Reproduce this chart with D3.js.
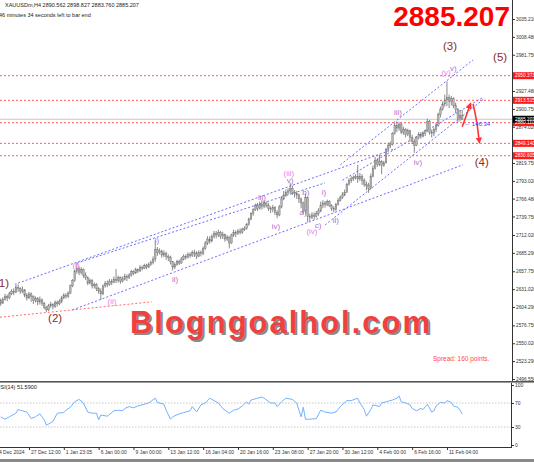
<!DOCTYPE html>
<html><head><meta charset="utf-8">
<script src="https://cdn.jsdelivr.net/npm/d3@7"></script>
<style>body{margin:0;background:#fff;overflow:hidden}svg{display:block}</style>
</head><body>
<script>
// ---------- DATA ----------
const firstOpen = 2618;
const closes = [
2614,2610,2616,2620,2618,2624,2628,2626,2634,2632,
2628,2630,2622,2618,2624,2620,2614,2617,2612,2615,
2610,2604,2600,2606,2608,2605,2611,2609,2613,2618,
2622,2620,2625,2636,2644,2658,2662,2656,2660,2652,
2648,2640,2644,2636,2638,2632,2628,2624,2636,2640,
2638,2643,2641,2646,2644,2648,2643,2646,2650,2648,
2652,2657,2655,2660,2658,2663,2662,2666,2664,2668,
2671,2676,2690,2686,2688,2682,2685,2680,2678,2672,
2664,2668,2672,2670,2676,2680,2678,2683,2681,2686,
2684,2680,2686,2684,2692,2700,2706,2703,2710,2714,
2712,2716,2710,2713,2706,2709,2700,2712,2716,2714,
2718,2716,2720,2722,2728,2736,2744,2750,2756,2752,
2758,2755,2760,2756,2752,2750,2753,2746,2742,2754,
2766,2772,2776,2778,2782,2776,2774,2772,2766,2760,
2748,2768,2740,2738,2742,2740,2744,2748,2756,2760,
2758,2762,2756,2752,2750,2758,2764,2768,2772,2776,
2788,2794,2796,2798,2800,2796,2800,2794,2788,2786,
2782,2800,2812,2824,2818,2822,2816,2820,2840,2846,
2848,2864,2876,2872,2878,2866,2870,2862,2868,2858,
2852,2846,2858,2862,2860,2864,2868,2882,2866,2864,
2870,2876,2892,2900,2908,2914,2918,2912,2916,2906,
2900,2886,2890.562,2885.207];
const highs = [
2620,2617,2619,2624,2623,2627,2631,2632,2640,2638,
2634,2635,2631,2625,2627,2626,2622,2620,2619,2620,
2617,2612,2606,2609,2612,2610,2614,2614,2616,2621,
2625,2625,2628,2638,2646,2660,2670,2665,2664,2662,
2656,2650,2647,2646,2641,2640,2634,2632,2638,2643,
2644,2646,2646,2650,2661,2651,2650,2650,2654,2653,
2655,2660,2659,2663,2662,2667,2666,2669,2669,2671,
2674,2680,2704,2694,2692,2690,2689,2687,2683,2681,
2673,2671,2675,2675,2679,2683,2683,2686,2686,2689,
2690,2688,2689,2689,2695,2703,2710,2710,2713,2718,
2718,2720,2718,2717,2714,2712,2710,2714,2720,2719,
2721,2722,2723,2725,2730,2738,2746,2752,2759,2760,
2762,2764,2764,2762,2760,2755,2757,2755,2749,2757,
2770,2778,2780,2782,2790,2786,2779,2778,2774,2768,
2762,2774,2769,2744,2746,2746,2748,2752,2762,2764,
2763,2765,2764,2758,2755,2760,2767,2771,2776,2780,
2790,2797,2800,2801,2803,2817,2805,2803,2797,2792,
2790,2804,2816,2829,2827,2832,2824,2823,2842,2850,
2852,2866,2880,2882,2881,2880,2874,2872,2871,2869,
2862,2856,2860,2866,2866,2867,2870,2886,2884,2870,
2873,2880,2895,2904,2912,2922,2942,2922,2920,2918,
2910,2902,2899,2898.827];
const lows = [
2608,2606,2609,2614,2613,2616,2622,2622,2625,2627,
2624,2625,2619,2614,2616,2612,2609,2611,2607,2608,
2606,2601,2597,2598,2603,2601,2603,2605,2607,2610,
2616,2617,2618,2624,2634,2642,2654,2652,2653,2648,
2645,2637,2638,2632,2632,2628,2624,2615,2622,2633,
2634,2636,2637,2640,2640,2641,2639,2641,2644,2643,
2646,2650,2652,2654,2655,2657,2659,2661,2661,2663,
2666,2668,2672,2681,2683,2678,2679,2675,2673,2668,
2659,2661,2666,2667,2669,2674,2675,2677,2678,2679,
2679,2676,2679,2680,2682,2690,2697,2699,2701,2707,
2707,2709,2706,2706,2702,2703,2692,2699,2709,2709,
2712,2713,2714,2718,2720,2726,2734,2741,2748,2748,
2750,2750,2752,2753,2748,2745,2746,2742,2737,2740,
2752,2764,2769,2772,2774,2772,2768,2766,2760,2752,
2744,2744,2731,2733,2736,2735,2738,2741,2746,2752,
2753,2755,2754,2748,2746,2748,2756,2762,2766,2770,
2775,2786,2790,2793,2795,2790,2793,2787,2784,2779,
2775,2780,2798,2810,2814,2815,2803,2814,2819,2838,
2842,2846,2862,2866,2868,2863,2862,2858,2860,2852,
2848,2835,2845,2855,2856,2858,2860,2866,2862,2858,
2860,2866,2874,2888,2898,2904,2905,2902,2906,2902,
2894,2880,2882,2883.76];

const rsiIdx = [1,3,5,8,9,11,13,15,17,19,21,22,24,25,27,30,31,33,35,37,39,41,43,45,46,47,50,53,55,57,58,60,62,64,66,69,72,73,76,77,79,80,83,85,88,89,91,93,95,97,99,101,103,106,108,110,112,114,115,116,119,121,122,125,127,128,130,132,135,137,138,139,140,141,143,146,148,150,153,155,157,160,162,165,166,168,169,171,172,175,176,178,181,183,184,185,187,189,190,192,194,195,197,199,200,201,203,205,206,208,209,211,212,213];
const rsiVal = [47,43,47,53,59,57,55,44,47,52,42,33,37,39,53,54,58,63,72,76,70,55,53,53,42,50,48,57,58,57,61,64,62,65,67,70,78,71,68,58,43,47,52,54,57,64,55,67,70,78,74,70,61,53,58,60,65,72,68,75,78,80,78,70,70,64,72,78,76,70,58,47,63,43,43,44,58,55,53,55,64,74,74,78,70,59,48,59,67,64,70,72,75,78,82,72,70,67,61,57,61,59,68,55,57,65,71,70,74,71,65,63,58,51.59];

const priceTicks = [3035.21,3008.48,2981.75,2927.48,2900.75,2874.02,2819.75,2793.02,2766.48,2739.75,2712.02,2685.29,2657.75,2631.02,2604.29,2576.75,2550.02,2523.29,2496.55];
const priceTickLabels = ["3035.210","3008.480","2981.750","2927.480","2900.750","2874.020","2819.750","2793.020","2766.480","2739.750","2712.020","2685.290","2657.750","2631.020","2604.290","2576.750","2550.020","2523.290","2496.550"];
const timeIdx = [-2,14,30,46,62,78,94,110,126,142,158,174,190,206];
const timeLabels = ["24 Dec 2024","27 Dec 12:00","1 Jan 23:05","6 Jan 00:00","9 Jan 00:00","13 Jan 12:00","16 Jan 04:00","20 Jan 16:00","23 Jan 08:00","27 Jan 20:00","30 Jan 12:00","4 Feb 00:00","6 Feb 16:00","11 Feb 04:00"];
const rsiTicks = [100,70,30,0];
const redLevels = [2950.373,2913.515,2880.110,2849.140,2830.605];
const lastPrice = 2885.207;

// Elliott wave labels: [text, barIndex, price, kind]
const waveLabels = [
 ["(1)",1.6,2638,"major"],["(2)",26,2586,"major"],["(3)",207.4,2993,"major"],["(4)",222,2820,"major"],["(5)",230.4,2977,"major"],
 ["(i)",35.6,2666,"inter"],["(ii)",52.1,2612,"inter"],["(iii)",133.4,2803,"inter"],["(iv)",144,2716,"inter"],["(v)",205.6,2954,"inter"],
 ["i)",72.8,2703,"minor"],["ii)",81.1,2645,"minor"],["iii)",121,2767,"minor"],["iv)",127.5,2724,"minor"],["v)",133.9,2793,"minor"],
 ["a)",139.9,2745,"minor"],["b)",141.2,2775,"minor"],["c)",146.8,2725,"minor"],["i)",149.5,2775,"minor"],["ii)",155,2733,"minor"],
 ["iii)",183.5,2895,"minor"],["iv)",192.7,2820,"minor"],["v)",208.9,2960,"minor"]
];
// trend lines: [bar1, price1, bar2, price2]
const blueLines = [
 [9,2640,182,2841],
 [34,2600,213.4,2817],
 [36,2670,150,2790],
 [157,2817,218,2974],
 [150,2727,223.5,2917],
 [158,2794,222.6,2918]
];
const redSupport = [0.7,2589,70.5,2612];

// ---------- CHART ----------
const W=534,H=462, axisX=512, mainBottom=381, rsiTop=383, rsiBottom=447;
const svg = d3.select("body").append("svg").attr("width",W).attr("height",H)
  .style("font-family","'Liberation Sans',Arial,sans-serif");
svg.append("rect").attr("width",W).attr("height",H).attr("fill","#fff");

const x = d3.scaleLinear().domain([0,213]).range([-1.5,462.2]);
const y = d3.scaleLinear().domain([2496.55,3035.21]).range([379,19]);
const yr = d3.scaleLinear().domain([0,100]).range([445,385]);

const defs = svg.append("defs");
defs.append("clipPath").attr("id","cm").append("rect").attr("x",0).attr("y",0).attr("width",axisX).attr("height",mainBottom);
defs.append("clipPath").attr("id","cr").append("rect").attr("x",0).attr("y",rsiTop).attr("width",axisX-1).attr("height",rsiBottom-rsiTop);

const main = svg.append("g").attr("clip-path","url(#cm)");

// red horizontal levels
main.selectAll(".lvl").data(redLevels).join("line")
  .attr("x1",0).attr("x2",axisX).attr("y1",d=>y(d)).attr("y2",d=>y(d))
  .attr("stroke","#ff4a4a").attr("stroke-width",0.9).attr("stroke-dasharray","2,2");
// bid line
main.append("line").attr("x1",0).attr("x2",axisX).attr("y1",y(lastPrice)).attr("y2",y(lastPrice))
  .attr("stroke","#c8c8c8").attr("stroke-width",1);

// trend lines
main.selectAll(".tl").data(blueLines).join("line")
  .attr("x1",d=>x(d[0])).attr("y1",d=>y(d[1])).attr("x2",d=>x(d[2])).attr("y2",d=>y(d[3]))
  .attr("stroke","#5a5aff").attr("stroke-width",0.9).attr("stroke-dasharray","2,2");
main.append("line").attr("x1",x(redSupport[0])).attr("y1",y(redSupport[1])).attr("x2",x(redSupport[2])).attr("y2",y(redSupport[3]))
  .attr("stroke","#ff5a5a").attr("stroke-width",0.9).attr("stroke-dasharray","2,2");

// watermark (behind candles)
const wm = "Blogngoalhol.com";
main.append("text").attr("x",132).attr("y",334.5).attr("font-weight","bold").attr("font-size",31)
  .attr("textLength",300).attr("lengthAdjust","spacing").attr("fill","#8a8a8a").text(wm);
main.append("text").attr("x",130).attr("y",332.5).attr("font-weight","bold").attr("font-size",31)
  .attr("textLength",300).attr("lengthAdjust","spacing").attr("fill","#f04040").text(wm);

// candles
const bars = closes.map((c,i)=>({i,o:i?closes[i-1]:firstOpen,h:highs[i],l:lows[i],c}));
const bw = 1.6;
const cg = main.append("g");
cg.selectAll(".w").data(bars).join("line")
  .attr("x1",d=>x(d.i)).attr("x2",d=>x(d.i))
  .attr("y1",d=>y(Math.max(d.h,d.o,d.c))).attr("y2",d=>y(Math.min(d.l,d.o,d.c)))
  .attr("stroke","#6a6a6a").attr("stroke-width",0.8);
cg.selectAll(".b").data(bars).join("rect")
  .attr("x",d=>x(d.i)-bw/2).attr("width",bw)
  .attr("y",d=>y(Math.max(d.o,d.c))).attr("height",d=>Math.max(0.8,Math.abs(y(d.o)-y(d.c))))
  .attr("fill","#b4b4b4").attr("stroke","#707070").attr("stroke-width",0.4);

// wave labels
const lblStyle = {major:{c:"#8c2a2a",s:11.5},inter:{c:"#f07cf0",s:8},minor:{c:"#b070cc",s:8}};
main.selectAll(".wl").data(waveLabels).join("text")
  .attr("x",d=>x(d[1])).attr("y",d=>y(d[2])).attr("text-anchor","middle").attr("dominant-baseline","middle")
  .attr("fill",d=>lblStyle[d[3]].c).attr("font-size",d=>lblStyle[d[3]].s).text(d=>d[0]);

// red arrows
defs.append("marker").attr("id","ah").attr("viewBox","0 0 10 10").attr("refX",5).attr("refY",5)
  .attr("markerWidth",4).attr("markerHeight",4).attr("orient","auto-start-reverse")
  .append("path").attr("d","M0,0L10,5L0,10z").attr("fill","#ff3333");
const arrowUp = [[213,2874],[215,2892],[216.5,2906]];
const arrowDown = [[218,2908],[219.6,2885],[220.8,2853]];
const ln = d3.line().x(d=>x(d[0])).y(d=>y(d[1])).curve(d3.curveBasis);
[arrowUp,arrowDown].forEach(a=>main.append("path").attr("d",ln(a)).attr("fill","none")
  .attr("stroke","#ff3333").attr("stroke-width",1.6).attr("marker-end","url(#ah)"));

// countdown text
main.append("text").attr("x",x(213)+2).attr("y",y(2877)).attr("font-size",6).attr("fill","#4040ff")
  .attr("dominant-baseline","middle").text("\u2190 146:34");

main.append("text").attr("x",433).attr("y",361).attr("font-size",6.5).attr("fill","#ff4a4a").text("Spread: 160 points.");

// big price
main.append("text").attr("x",510).attr("y",26).attr("text-anchor","end").attr("font-weight","bold")
  .attr("font-size",28).attr("fill","#ff0000").text("2885.207");

// title
svg.append("text").attr("x",5).attr("y",7).attr("font-size",5.5).attr("fill","#222")
  .text("XAUUSDm,H4  2890.562 2898.827 2883.760 2885.207");
svg.append("text").attr("x",-1).attr("y",17).attr("font-size",5.5).attr("fill","#222")
  .text("46 minutes 34 seconds left to bar end");

// price axis
const pa = svg.append("g").attr("transform",`translate(${axisX},0)`)
  .call(d3.axisRight(y).tickValues(priceTicks).tickFormat((d,i)=>priceTickLabels[i]).tickSize(3).tickPadding(1).tickSizeOuter(0));
pa.select(".domain").attr("d",`M0.5,0V${mainBottom}`).attr("stroke","#333");
pa.selectAll("text").attr("font-size",4.8).attr("fill","#333").attr("font-family","'Liberation Sans',Arial,sans-serif");
pa.selectAll("line").attr("stroke","#333");

// level boxes
const boxes = redLevels.map(v=>({v,c:"#ff1a1a"})).concat([{v:lastPrice,c:"#000"}]);
const bg = svg.append("g");
bg.selectAll("rect").data(boxes).join("rect").attr("x",axisX+1).attr("y",d=>y(d.v)-3.5).attr("width",W-axisX-1).attr("height",7).attr("fill",d=>d.c);
bg.selectAll("text").data(boxes).join("text").attr("x",axisX+3).attr("y",d=>y(d.v)).attr("dominant-baseline","middle")
  .attr("font-size",4.8).attr("fill","#fff").text(d=>d.v.toFixed(3));

// separators
svg.append("rect").attr("x",0).attr("y",mainBottom).attr("width",W).attr("height",1.6).attr("fill","#555");

// RSI panel
const rp = svg.append("g");
rp.selectAll(".rl").data([70,30]).join("line").attr("x1",0).attr("x2",axisX-1).attr("y1",d=>yr(d)).attr("y2",d=>yr(d))
  .attr("stroke","#b0b0b0").attr("stroke-width",0.7).attr("stroke-dasharray","1.5,1.5");
const rsiPts = rsiIdx.map((b,k)=>[b,rsiVal[k]]);
rp.append("g").attr("clip-path","url(#cr)").append("path")
  .attr("d",d3.line().x(d=>x(d[0])).y(d=>yr(d[1]))(rsiPts))
  .attr("fill","none").attr("stroke","#72b2ff").attr("stroke-width",1);
rp.append("text").attr("x",-3.5).attr("y",389).attr("font-size",5.5).attr("fill","#222").text("RSI(14) 51.5900");
const ra = svg.append("g").attr("transform",`translate(${axisX-1},0)`)
  .call(d3.axisRight(yr).tickValues(rsiTicks).tickSize(3).tickPadding(1).tickSizeOuter(0));
ra.select(".domain").attr("d",`M0.5,${rsiTop}V${rsiBottom}`).attr("stroke","#333");
ra.selectAll("text").attr("font-size",5).attr("fill","#333").attr("font-family","'Liberation Sans',Arial,sans-serif");
ra.selectAll("line").attr("stroke","#333");

// time axis
svg.append("line").attr("x1",0).attr("x2",axisX).attr("y1",rsiBottom+0.5).attr("y2",rsiBottom+0.5).attr("stroke","#333");
const ta = svg.append("g").attr("transform",`translate(0,${rsiBottom})`)
  .call(d3.axisBottom(x).tickValues(timeIdx).tickFormat((d,i)=>timeLabels[i]).tickSize(3).tickPadding(1).tickSizeOuter(0));
ta.select(".domain").remove();
ta.selectAll("line").attr("stroke","#333");
ta.selectAll("text").attr("font-size",5).attr("fill","#333").attr("text-anchor","start").attr("x",1.5).attr("dy","0.5em")
  .attr("font-family","'Liberation Sans',Arial,sans-serif");
svg.append("rect").attr("x",0).attr("y",459).attr("width",W).attr("height",3).attr("fill","#888");
</script>
</body></html>
